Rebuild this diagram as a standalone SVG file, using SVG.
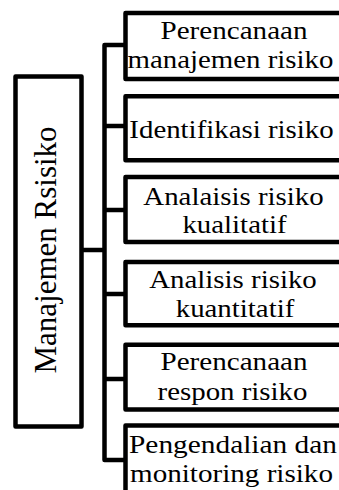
<svg xmlns="http://www.w3.org/2000/svg" width="339" height="490" viewBox="0 0 339 490">
<style>
.box{fill:#fff;stroke:#000;stroke-width:4.5;stroke-linejoin:round}
.con{fill:none;stroke:#000;stroke-width:4.5;stroke-linejoin:round}
text{font-family:"Liberation Serif","Times New Roman",serif;fill:#000;text-anchor:middle}
.t{font-size:26px}
.m{font-size:31px}
</style>
<rect width="339" height="490" fill="#fff"/>
<g id="connectors">
<path class="con" d="M125.5 45H104.5V460H125.5"/>
<path class="con" d="M104.5 126H125.5M104.5 210H125.5M104.5 294H125.5M104.5 379H125.5M81.5 250H104.5"/>
</g>
<g id="root">
<rect class="box" x="15.5" y="76.5" width="66" height="350"/>
<text class="m" transform="translate(56,250) rotate(-90)">Manajemen Rsisiko</text>
</g>
<g id="n1">
<rect class="box" x="125.5" y="13" width="230" height="66"/>
<text class="t" transform="translate(234,39.3) scale(1.12,1)">Perencanaan</text>
<text class="t" transform="translate(230.5,68.3) scale(1.11,1)">manajemen risiko</text>
</g>
<g id="n2">
<rect class="box" x="125.5" y="96.3" width="230" height="64"/>
<text class="t" transform="translate(231.5,137.7) scale(1.11,1)">Identifikasi risiko</text>
</g>
<g id="n3">
<rect class="box" x="125.5" y="177" width="230" height="65"/>
<text class="t" transform="translate(233.5,205) scale(1.11,1)">Analaisis risiko</text>
<text class="t" transform="translate(234.5,232.7) scale(1.11,1)">kualitatif</text>
</g>
<g id="n4">
<rect class="box" x="125.5" y="262" width="230" height="63.3"/>
<text class="t" transform="translate(233,288.3) scale(1.11,1)">Analisis risiko</text>
<text class="t" transform="translate(235,316.7) scale(1.11,1)">kuantitatif</text>
</g>
<g id="n5">
<rect class="box" x="125.5" y="344.7" width="230" height="64.8"/>
<text class="t" transform="translate(234,370) scale(1.12,1)">Perencanaan</text>
<text class="t" transform="translate(232.5,400) scale(1.11,1)">respon risiko</text>
</g>
<g id="n6">
<rect class="box" x="125.5" y="425.5" width="230" height="80"/>
<text class="t" transform="translate(233,453.3) scale(1.13,1)">Pengendalian dan</text>
<text class="t" transform="translate(231.5,481.7) scale(1.12,1)">monitoring risiko</text>
</g>
</svg>
